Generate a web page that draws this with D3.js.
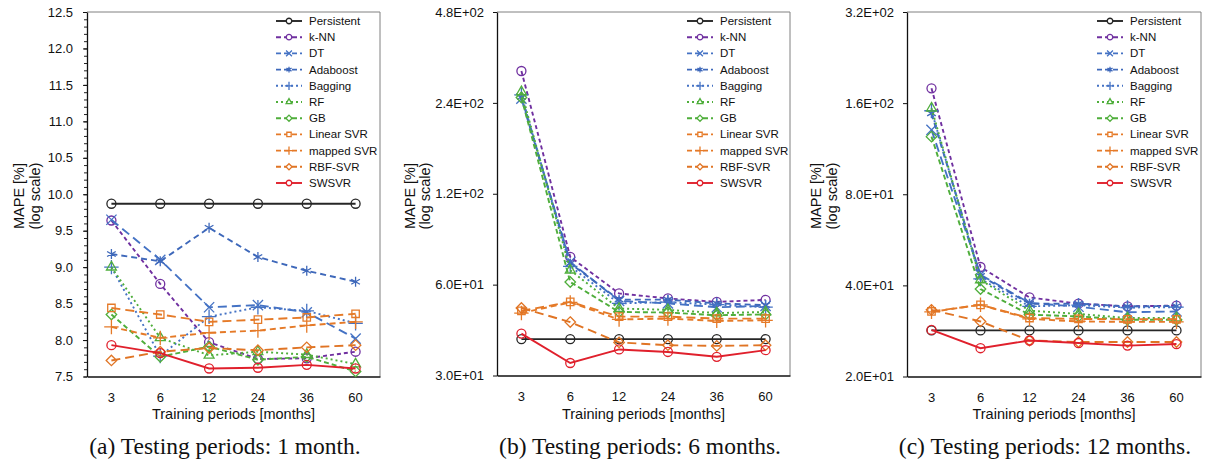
<!DOCTYPE html>
<html><head><meta charset="utf-8">
<script src="https://cdn.jsdelivr.net/npm/d3@7"></script>
<style>body{margin:0;background:#fff}svg{display:block}</style>
</head><body>
<svg id="chart" width="1206" height="467"></svg>
<script>
// ---------- data ----------
const periods = ["3", "6", "12", "24", "36", "60"];
const methods = ["Persistent","k-NN","DT","Adaboost","Bagging","RF","GB","Linear SVR","mapped SVR","RBF-SVR","SWSVR"];

// (a) testing period 1 month, MAPE [%]
const mape1 = [
  [9.87, 9.87, 9.87, 9.87, 9.87, 9.87],   // Persistent
  [9.64, 8.77, 7.97, 7.74, 7.75, 7.84],   // k-NN
  [9.65, 9.10, 8.45, 8.48, 8.38, 8.02],   // DT
  [9.18, 9.08, 9.54, 9.14, 8.95, 8.80],   // Adaboost
  [9.00, 7.78, 8.32, 8.45, 8.40, 8.23],   // Bagging
  [9.00, 8.03, 7.79, 7.84, 7.80, 7.67],   // RF
  [8.35, 7.77, 7.91, 7.73, 7.77, 7.57],   // GB
  [8.44, 8.35, 8.25, 8.28, 8.31, 8.36],   // Linear SVR
  [8.18, 8.03, 8.10, 8.13, 8.20, 8.25],   // mapped SVR
  [7.72, 7.84, 7.89, 7.86, 7.90, 7.93],   // RBF-SVR
  [7.93, 7.82, 7.61, 7.62, 7.66, 7.61]    // SWSVR
];
// (b) testing period 6 months
const mape6 = [
  [39.6, 39.6, 39.6, 39.6, 39.6, 39.6],
  [306, 74.1, 56.1, 54.0, 52.6, 53.4],
  [248, 71.3, 53.0, 52.0, 50.5, 51.0],
  [251, 70.5, 53.5, 53.5, 52.0, 51.3],
  [255, 69.0, 52.0, 52.5, 51.5, 50.5],
  [261, 67.0, 50.0, 49.5, 48.3, 48.7],
  [250, 61.2, 48.7, 48.5, 47.5, 47.8],
  [49.1, 52.6, 47.0, 47.0, 46.3, 46.3],
  [48.3, 52.4, 46.0, 46.3, 45.5, 45.7],
  [50.2, 45.1, 38.6, 37.8, 37.6, 37.8],
  [41.3, 33.0, 36.6, 35.9, 34.6, 36.4]
];
// (c) testing period 12 months
const mape12 = [
  [28.4, 28.4, 28.4, 28.4, 28.4, 28.4],
  [179, 46.0, 36.5, 34.8, 34.1, 34.3],
  [130.5, 43.4, 35.0, 34.0, 32.6, 32.8],
  [148, 43.0, 34.8, 34.8, 34.1, 34.2],
  [151, 42.0, 34.1, 34.4, 33.8, 33.9],
  [154, 41.7, 33.0, 32.2, 31.2, 31.2],
  [124, 38.9, 32.0, 31.6, 30.8, 30.8],
  [32.8, 34.5, 31.2, 31.0, 30.9, 30.9],
  [32.7, 34.5, 31.0, 30.4, 30.3, 30.3],
  [33.2, 30.4, 26.3, 26.0, 26.0, 26.0],
  [28.5, 24.8, 26.3, 25.8, 25.3, 25.6]
];

const yTicks1 = [7.5, 8.0, 8.5, 9.0, 9.5, 10.0, 10.5, 11.0, 11.5, 12.0, 12.5];
const yTicks6 = [30, 60, 120, 240, 480];
const yTicks12 = [20, 40, 80, 160, 320];
const yTitle = ["MAPE [%]", "(log scale)"];
const xTitle = "Training periods [months]";
const captions = ["(a) Testing periods: 1 month.", "(b) Testing periods: 6 months.", "(c) Testing periods: 12 months."];

// ---------- styles ----------
const colors = ["#262626","#7030A0","#4472C4","#3E68BA","#4472C4","#4FAE3B","#4FAE3B","#E57A28","#E57A28","#E07424","#E0202C"];
const dashes = [null,"4,3","9,5","6,4","2,3","2,3","5,3","9,5","6,4","9,5",null];
const symbols = [d3.symbolCircle, d3.symbolCircle, d3.symbolTimes, d3.symbolAsterisk, d3.symbolPlus,
                 d3.symbolTriangle2, d3.symbolDiamond2, d3.symbolSquare2, d3.symbolPlus, d3.symbolDiamond2, d3.symbolCircle];

const fmtE = v => {
  const e = Math.floor(Math.log10(v) + 1e-9);
  const m = v / Math.pow(10, e);
  return m.toFixed(1) + "E+" + String(e).padStart(2, "0");
};

const panels = [
  {data: mape1, left: 87, right: 380, top: 12, bottom: 376.5, log: false, domain: [7.5, 12.5],
   ticks: yTicks1, fmt: d3.format(".1f"), minor: true, tickPad: 10, legX: 276, yt: [19, 35], cap: 225},
  {data: mape6, left: 497, right: 790, top: 12, bottom: 375.5, log: true, domain: [30, 480],
   ticks: yTicks6, fmt: fmtE, minor: false, tickPad: 9, legX: 687, yt: [410, 425], cap: 640},
  {data: mape12, left: 907, right: 1201, top: 12, bottom: 376.5, log: true, domain: [20, 320],
   ticks: yTicks12, fmt: fmtE, minor: false, tickPad: 9, legX: 1097, yt: [816, 832], cap: 1045}
];

const svg = d3.select("#chart");
const font = "'Liberation Sans', Arial, sans-serif";

panels.forEach((p, pi) => {
  const g = svg.append("g");
  const x = d3.scaleBand().domain(periods).range([p.left, p.right]);
  const y = (p.log ? d3.scaleLog().base(2) : d3.scaleLinear()).domain(p.domain).range([p.bottom, p.top]);

  // frame top/right
  g.append("path")
    .attr("d", `M${p.left},${p.top}H${p.right}V${p.bottom}`)
    .attr("fill", "none").attr("stroke", "#808080").attr("stroke-width", 1);

  // minor ticks
  if (p.minor) {
    const minorVals = d3.range(75, 126).map(v => v / 10);
    g.append("g").attr("transform", `translate(${p.left},0)`)
      .call(d3.axisLeft(y).tickValues(minorVals).tickSize(3).tickFormat(""))
      .call(a => a.select(".domain").remove())
      .selectAll("line").attr("stroke", "#222");
  }
  // y axis
  const ya = g.append("g").attr("transform", `translate(${p.left},0)`)
    .call(d3.axisLeft(y).tickValues(p.ticks).tickFormat(p.fmt).tickSizeInner(4).tickSizeOuter(0).tickPadding(p.tickPad));
  ya.select(".domain").attr("stroke", "#111").attr("stroke-width", 1.3);
  ya.selectAll("line").attr("stroke", "#111");
  ya.selectAll("text").attr("font-family", font).attr("font-size", 13).attr("fill", "#111");

  // x axis
  const xa = g.append("g").attr("transform", `translate(0,${p.bottom})`)
    .call(d3.axisBottom(x).tickSize(0).tickPadding(16));
  xa.select(".domain").attr("stroke", "#111").attr("stroke-width", 1.3);
  xa.selectAll("text").attr("font-family", font).attr("font-size", 13).attr("fill", "#111");

  // titles
  g.append("text").attr("x", (p.left + p.right) / 2).attr("y", 419)
    .attr("text-anchor", "middle").attr("font-family", font).attr("font-size", 14.5).attr("fill", "#111")
    .text(xTitle);
  yTitle.forEach((t, i) => {
    g.append("text").attr("transform", `translate(${p.yt[i] + 5},196) rotate(-90)`)
      .attr("text-anchor", "middle").attr("font-family", font).attr("font-size", 14.5).attr("fill", "#111")
      .text(t);
  });

  // caption
  g.append("text").attr("x", p.cap).attr("y", 454).attr("text-anchor", "middle")
    .attr("font-family", "'Liberation Serif', 'Times New Roman', serif").attr("font-size", 23.5).attr("fill", "#111")
    .text(captions[pi]);

  // series
  const line = d3.line().x((d, i) => x(periods[i]) + x.bandwidth() / 2).y(d => y(d));
  p.data.forEach((vals, si) => {
    const sg = g.append("g");
    sg.append("path").attr("d", line(vals)).attr("fill", "none")
      .attr("stroke", colors[si]).attr("stroke-width", 1.9)
      .attr("stroke-dasharray", dashes[si]);
    sg.selectAll("path.m").data(vals).join("path").attr("class", "m")
      .attr("transform", (d, i) => `translate(${x(periods[i]) + x.bandwidth() / 2},${y(d)})`)
      .attr("d", d3.symbol(symbols[si], symbols[si] === d3.symbolCircle ? 64 : 70))
      .attr("fill", "none").attr("stroke", colors[si]).attr("stroke-width", 1.3);
  });

  // legend
  const lg = g.append("g");
  methods.forEach((m, i) => {
    const yy = 21 + i * 16.2;
    lg.append("line").attr("x1", p.legX).attr("x2", p.legX + 26).attr("y1", yy).attr("y2", yy)
      .attr("stroke", colors[i]).attr("stroke-width", 1.9).attr("stroke-dasharray", dashes[i] ? (dashes[i] === "2,3" ? "2,3" : "5,3") : null);
    lg.append("path").attr("transform", `translate(${p.legX + 13},${yy})`)
      .attr("d", d3.symbol(symbols[i], 24)).attr("fill", "white").attr("stroke", colors[i]).attr("stroke-width", 1.3);
    lg.append("text").attr("x", p.legX + 33).attr("y", yy + 4).attr("font-family", font)
      .attr("font-size", 11.5).attr("fill", "#111").text(m);
  });
});
</script>
</body></html>
